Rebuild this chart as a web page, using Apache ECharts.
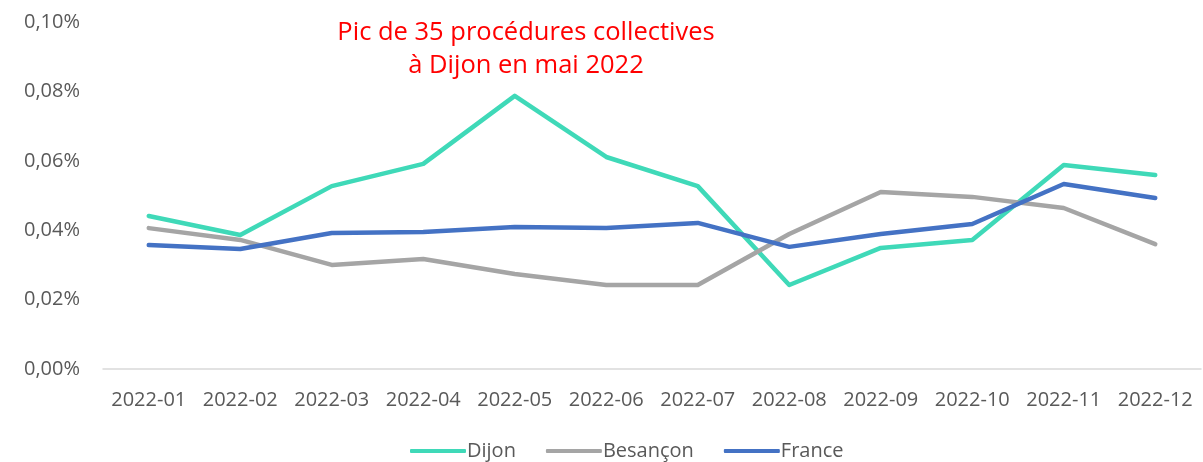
<!DOCTYPE html>
<html>
<head>
<meta charset="utf-8">
<script src="https://cdn.jsdelivr.net/npm/echarts@6/dist/echarts.min.js"></script>
<style>
html,body{margin:0;padding:0;background:#fff;}
#c{width:1203px;height:462px;}
</style>
</head>
<body>
<div id="c"></div>
<script>
const categories = ['2022-01','2022-02','2022-03','2022-04','2022-05','2022-06','2022-07','2022-08','2022-09','2022-10','2022-11','2022-12'];
const dijon =    [0.0441,0.0386,0.0527,0.0591,0.0787,0.0611,0.0527,0.0242,0.0349,0.0372,0.0588,0.0559];
const besancon = [0.0406,0.0372,0.0300,0.0317,0.0274,0.0242,0.0242,0.0389,0.0510,0.0496,0.0464,0.0360];
const france =   [0.0357,0.0346,0.0392,0.0395,0.0409,0.0406,0.0421,0.0352,0.0389,0.0418,0.0533,0.0493];
const annotation = 'Pic de 35 procédures collectives\nà Dijon en mai 2022';

const font = '"Open Sans", "Liberation Sans", sans-serif';
const chart = echarts.init(document.getElementById('c'));
function ser(name, data, color){
  return {name, type:'line', data, symbol:'none', smooth:false,
    lineStyle:{color, width:4.5, cap:'round', join:'round'}, itemStyle:{color}};
}
chart.setOption({
  animation:false,
  title:{text:annotation, left:521, top:11, textAlign:'center',
    textStyle:{color:'#ff0000', fontSize:25.5, fontWeight:'normal', fontFamily:font, lineHeight:33}},
  grid:{left:103, right:2, top:22, bottom:93},
  legend:{bottom:-4, left:405, itemWidth:56, itemHeight:4, itemGap:30,
    icon:'roundRect',
    textStyle:{color:'#595959', fontSize:20, fontFamily:font, padding:[0,0,0,-4]},
    data:['Dijon','Besançon','France']},
  xAxis:{type:'category', data:categories, boundaryGap:true,
    axisLine:{lineStyle:{color:'#d9d9d9', width:1.5}}, axisTick:{show:false},
    axisLabel:{color:'#595959', fontSize:20, fontFamily:font, margin:21, interval:0}},
  yAxis:{type:'value', min:0, max:0.1, interval:0.02,
    axisLine:{show:false}, axisTick:{show:false}, splitLine:{show:false},
    axisLabel:{color:'#595959', fontSize:20, fontFamily:font, margin:23,
      formatter:v=>v.toFixed(2).replace('.',',')+'%'}},
  series:[ser('Dijon',dijon,'#3fd9b8'), ser('Besançon',besancon,'#a5a5a5'), ser('France',france,'#4472c4')]
});
</script>
</body>
</html>
